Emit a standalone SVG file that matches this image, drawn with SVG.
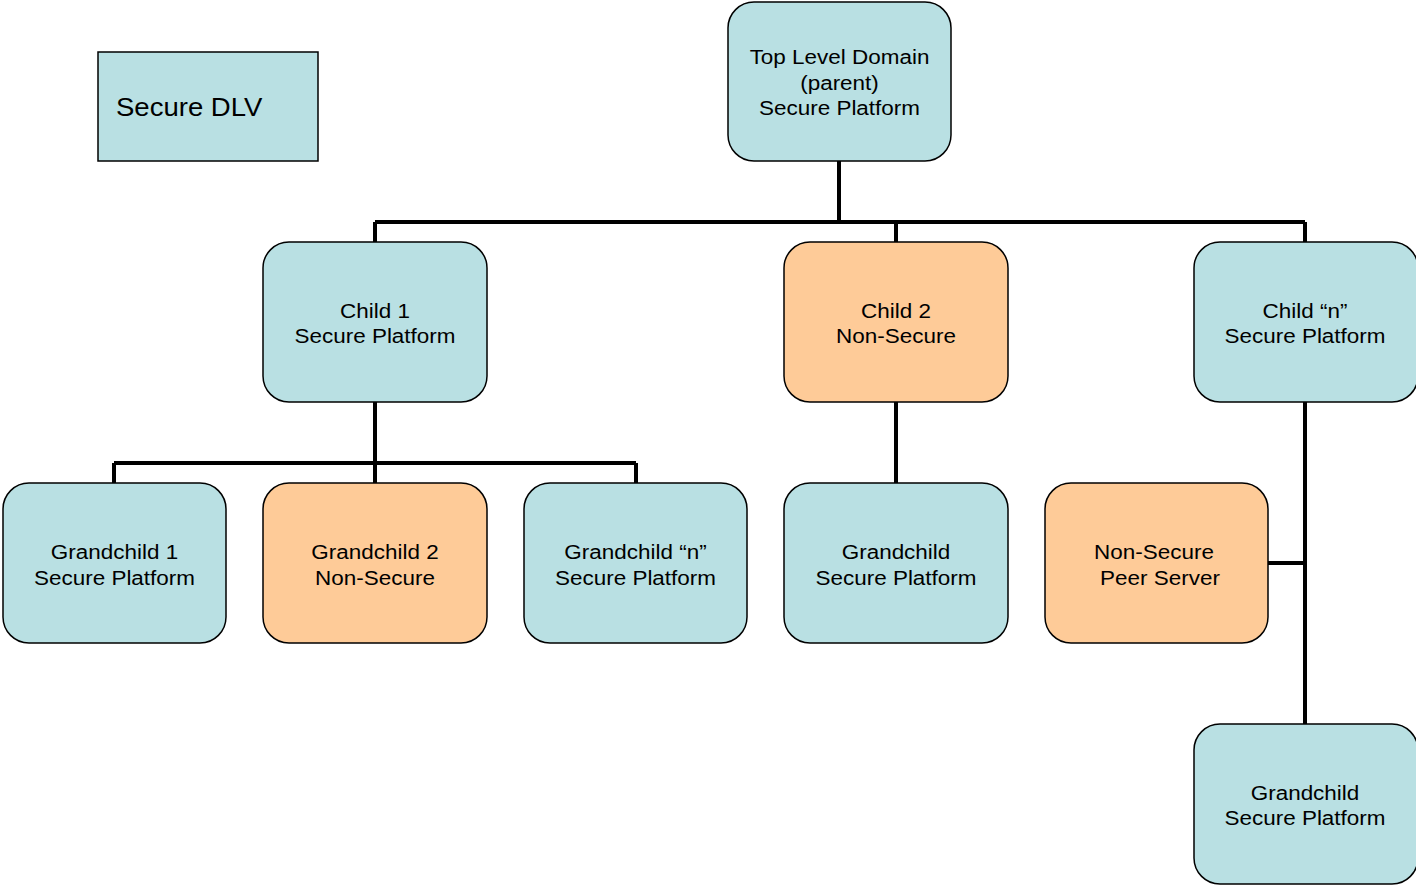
<svg xmlns="http://www.w3.org/2000/svg" width="1416" height="885" viewBox="0 0 1416 885">
<style>
.sec{fill:#B9E0E3;stroke:#000;stroke-width:1.5}
.non{fill:#FECB98;stroke:#000;stroke-width:1.5}
.t{font-family:"Liberation Sans",Arial,sans-serif;font-size:21px;fill:#000;text-anchor:middle}
.c{fill:none;stroke:#000;stroke-width:4}
</style>
<rect width="1416" height="885" fill="#fff"/>
<g id="connectors">
<path class="c" d="M839 161V222M375 222H1305M375 222V242M896 222V242M1305 222V242"/>
<path class="c" d="M375 402V463M114 463H636M114 463V483M375 463V483M636 463V483"/>
<path class="c" d="M896 402V483"/>
<path class="c" d="M1305 402V724M1268 563H1305"/>
</g>
<g id="dlv"><rect x="98" y="52" width="220" height="109" class="sec"/><text transform="translate(116 116) scale(1.08 1)" style="font-family:'Liberation Sans',Arial,sans-serif;font-size:25.5px">Secure DLV</text></g>
<g id="top"><rect x="728" y="2" width="223" height="159" rx="26" class="sec"/><text class="t" transform="translate(839.5 64) scale(1.07 1)">Top Level Domain</text><text class="t" transform="translate(839.5 90) scale(1.07 1)">(parent)</text><text class="t" transform="translate(839.5 115) scale(1.07 1)">Secure Platform</text></g>
<g id="child1"><rect x="263" y="242" width="224" height="160" rx="26" class="sec"/><text class="t" transform="translate(375 318) scale(1.07 1)">Child 1</text><text class="t" transform="translate(375 343) scale(1.07 1)">Secure Platform</text></g>
<g id="child2"><rect x="784" y="242" width="224" height="160" rx="26" class="non"/><text class="t" transform="translate(896 318) scale(1.07 1)">Child 2</text><text class="t" transform="translate(896 343) scale(1.07 1)">Non-Secure</text></g>
<g id="childn"><rect x="1194" y="242" width="224" height="160" rx="26" class="sec"/><text class="t" transform="translate(1305 318) scale(1.07 1)">Child “n”</text><text class="t" transform="translate(1305 343) scale(1.07 1)">Secure Platform</text></g>
<g id="gc1"><rect x="3" y="483" width="223" height="160" rx="26" class="sec"/><text class="t" transform="translate(114.5 559) scale(1.07 1)">Grandchild 1</text><text class="t" transform="translate(114.5 585) scale(1.07 1)">Secure Platform</text></g>
<g id="gc2"><rect x="263" y="483" width="224" height="160" rx="26" class="non"/><text class="t" transform="translate(375 559) scale(1.07 1)">Grandchild 2</text><text class="t" transform="translate(375 585) scale(1.07 1)">Non-Secure</text></g>
<g id="gcn"><rect x="524" y="483" width="223" height="160" rx="26" class="sec"/><text class="t" transform="translate(635.5 559) scale(1.07 1)">Grandchild “n”</text><text class="t" transform="translate(635.5 585) scale(1.07 1)">Secure Platform</text></g>
<g id="gc-child2"><rect x="784" y="483" width="224" height="160" rx="26" class="sec"/><text class="t" transform="translate(896 559) scale(1.07 1)">Grandchild</text><text class="t" transform="translate(896 585) scale(1.07 1)">Secure Platform</text></g>
<g id="peer"><rect x="1045" y="483" width="223" height="160" rx="26" class="non"/><text class="t" transform="translate(1154 559) scale(1.07 1)">Non-Secure</text><text class="t" transform="translate(1160 585) scale(1.07 1)">Peer Server</text></g>
<g id="gc-childn"><rect x="1194" y="724" width="224" height="160" rx="26" class="sec"/><text class="t" transform="translate(1305 800) scale(1.07 1)">Grandchild</text><text class="t" transform="translate(1305 825) scale(1.07 1)">Secure Platform</text></g>
</svg>
